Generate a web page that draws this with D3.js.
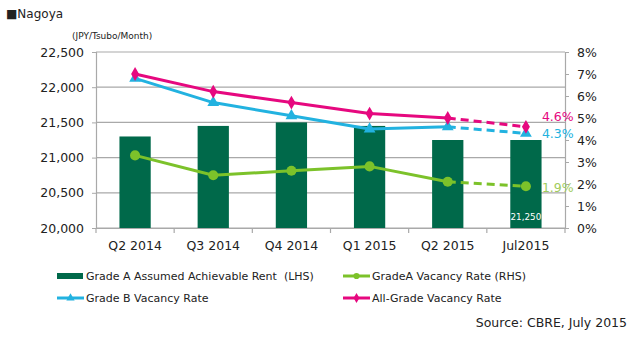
<!DOCTYPE html>
<html>
<head>
<meta charset="utf-8">
<script src="https://cdn.jsdelivr.net/npm/d3@7"></script>
<style>
  body { margin: 0; background: #fff; }
  svg { display: block; font-family: "DejaVu Sans", sans-serif; }
  text { white-space: pre; }
</style>
</head>
<body>
<svg id="chart" width="632" height="338"></svg>
<script>
// quarters on the x axis
const categories = ["Q2 2014", "Q3 2014", "Q4 2014", "Q1 2015", "Q2 2015", "Jul2015"];
// Grade A assumed achievable rent, JPY/tsubo/month (left axis)
const rentValues = [21300, 21450, 21500, 21450, 21250, 21250];
// vacancy rates in % (right axis)
const gradeAVacancy = [3.3, 2.4, 2.6, 2.8, 2.1, 1.9];
const gradeBVacancy = [6.8, 5.7, 5.1, 4.5, 4.6, 4.3];
const allGradeVacancy = [7.0, 6.2, 5.7, 5.2, 5.0, 4.6];
const leftTicks = [20000, 20500, 21000, 21500, 22000, 22500];
const rightTicks = [0, 1, 2, 3, 4, 5, 6, 7, 8];

const colors = {
  bar: "#00694a",
  green: "#7cc22a",
  greenText: "#9fcc5c",
  blue: "#22b2e0",
  pink: "#e6087f",
  grid: "#a9a9a9",
  text: "#222"
};

const plot = { left: 96, right: 565, top: 52, bottom: 228 };

const svg = d3.select("#chart");

const x = d3.scaleBand().domain(categories).range([plot.left, plot.right]);
const yL = d3.scaleLinear().domain([20000, 22500]).range([plot.bottom, plot.top]);
const yR = d3.scaleLinear().domain([0, 8]).range([plot.bottom, plot.top]);
const cx = c => x(c) + x.bandwidth() / 2;

// title + units
svg.append("text").attr("x", 6).attr("y", 18)
  .attr("font-size", 12).attr("fill", colors.text).text("■Nagoya");
svg.append("text").attr("x", 72).attr("y", 39)
  .attr("font-size", 9).attr("fill", colors.text).text("(JPY/Tsubo/Month)");

// horizontal gridlines
svg.append("g").selectAll("line").data(leftTicks).join("line")
  .attr("x1", plot.left).attr("x2", plot.right)
  .attr("y1", d => yL(d)).attr("y2", d => yL(d))
  .attr("stroke", colors.grid).attr("stroke-width", 1.2);

// left axis
const leftAxis = svg.append("g").attr("transform", `translate(${plot.left},0)`)
  .call(d3.axisLeft(yL).tickValues(leftTicks).tickSize(4).tickPadding(8)
    .tickFormat(d3.format(",")));
leftAxis.select(".domain").attr("stroke", colors.grid).attr("stroke-width", 1.2);
leftAxis.selectAll(".tick line").attr("stroke", colors.grid);
leftAxis.selectAll("text").attr("font-size", 12.5).attr("fill", colors.text)
  .attr("font-family", "DejaVu Sans");

// right axis
const rightAxis = svg.append("g").attr("transform", `translate(${plot.right},0)`)
  .call(d3.axisRight(yR).tickValues(rightTicks).tickSize(4).tickPadding(8)
    .tickFormat(d => d + "%"));
rightAxis.select(".domain").attr("stroke", colors.grid).attr("stroke-width", 1.2);
rightAxis.selectAll(".tick line").attr("stroke", colors.grid);
rightAxis.selectAll("text").attr("font-size", 12.5).attr("fill", colors.text)
  .attr("font-family", "DejaVu Sans");

// bottom axis: labels at band centres, ticks at band edges
const bottomAxis = svg.append("g").attr("transform", `translate(0,${plot.bottom})`)
  .call(d3.axisBottom(x).tickSize(0).tickPadding(13));
bottomAxis.select(".domain").attr("stroke", colors.grid).attr("stroke-width", 1.2);
bottomAxis.selectAll("text").attr("font-size", 12.5).attr("fill", colors.text)
  .attr("font-family", "DejaVu Sans");
const edges = categories.map(c => x(c)).concat([x.range()[1]]);
svg.append("g").selectAll("line").data(edges).join("line")
  .attr("x1", d => d).attr("x2", d => d)
  .attr("y1", plot.bottom).attr("y2", plot.bottom + 5)
  .attr("stroke", colors.grid).attr("stroke-width", 1.2);

// rent bars
const barW = x.bandwidth() * 0.4;
svg.append("g").selectAll("rect").data(rentValues).join("rect")
  .attr("x", (d, i) => cx(categories[i]) - barW / 2)
  .attr("y", d => yL(d))
  .attr("width", barW)
  .attr("height", d => plot.bottom - yL(d))
  .attr("fill", colors.bar);

// value label inside the last bar
const last = categories.length - 1;
svg.append("text")
  .attr("x", cx(categories[last]))
  .attr("y", plot.bottom - 8)
  .attr("text-anchor", "middle").attr("font-size", 8.8).attr("fill", "#fff")
  .text(d3.format(",")(rentValues[last]));

// vacancy lines: solid for quarters, dashed for the latest month
const markerSymbol = {
  circle: d3.symbol().type(d3.symbolCircle).size(80),
  triangle: d3.symbol().type(d3.symbolTriangle).size(60),
  diamond: d3.symbol().type(d3.symbolDiamond).size(55)
};

function drawSeries(values, color, marker) {
  const pts = values.map((v, i) => [cx(categories[i]), yR(v)]);
  const line = d3.line();
  const g = svg.append("g");
  g.append("path").attr("d", line(pts.slice(0, last)))
    .attr("fill", "none").attr("stroke", color).attr("stroke-width", 3)
    .attr("stroke-linejoin", "round");
  g.append("path").attr("d", line(pts.slice(last - 1)))
    .attr("fill", "none").attr("stroke", color).attr("stroke-width", 3)
    .attr("stroke-dasharray", "8,5");
  g.selectAll(".pt").data(pts).join("path").attr("class", "pt")
    .attr("transform", d => `translate(${d[0]},${d[1]})`)
    .attr("d", markerSymbol[marker]())
    .attr("fill", color);
}

drawSeries(gradeAVacancy, colors.green, "circle");
drawSeries(gradeBVacancy, colors.blue, "triangle");
drawSeries(allGradeVacancy, colors.pink, "diamond");

// latest-value labels beside the final point
const endLabels = [
  { v: allGradeVacancy[last], color: colors.pink, dy: -10 },
  { v: gradeBVacancy[last], color: colors.blue, dy: 0 },
  { v: gradeAVacancy[last], color: colors.greenText, dy: 1 }
];
svg.append("g").selectAll("text").data(endLabels).join("text")
  .attr("x", cx(categories[last]) + 16)
  .attr("y", d => yR(d.v) + d.dy)
  .attr("dy", "0.35em")
  .attr("font-size", 12.5).attr("fill", d => d.color)
  .text(d => d.v.toFixed(1) + "%");

// legend
const legendItems = [
  { label: "Grade A Assumed Achievable Rent  (LHS)", color: colors.bar, kind: "rect", lx: 57, ly: 276 },
  { label: "GradeA Vacancy Rate (RHS)", color: colors.green, kind: "circle", lx: 343, ly: 276 },
  { label: "Grade B Vacancy Rate", color: colors.blue, kind: "triangle", lx: 57, ly: 298 },
  { label: "All-Grade Vacancy Rate", color: colors.pink, kind: "diamond", lx: 343, ly: 298 }
];
const legend = svg.append("g").selectAll("g").data(legendItems).join("g")
  .attr("transform", d => `translate(${d.lx},${d.ly})`);
legend.filter(d => d.kind === "rect").append("rect")
  .attr("x", 0).attr("y", -3).attr("width", 26).attr("height", 6)
  .attr("fill", d => d.color);
legend.filter(d => d.kind !== "rect").append("line")
  .attr("x1", 0).attr("x2", 27).attr("y1", 0).attr("y2", 0)
  .attr("stroke", d => d.color).attr("stroke-width", 3);
legend.filter(d => d.kind !== "rect").append("path")
  .attr("transform", "translate(13.5,0)")
  .attr("d", d => d3.symbol().type(
    d.kind === "circle" ? d3.symbolCircle : d.kind === "triangle" ? d3.symbolTriangle : d3.symbolDiamond
  ).size(30)())
  .attr("fill", d => d.color);
legend.append("text")
  .attr("x", 29)
  .attr("dy", "0.35em")
  .attr("font-size", 11).attr("fill", colors.text)
  .text(d => d.label);

// source note
svg.append("text").attr("x", 627).attr("y", 327)
  .attr("text-anchor", "end").attr("font-size", 12.5).attr("fill", colors.text)
  .text("Source: CBRE, July 2015");
</script>
</body>
</html>
